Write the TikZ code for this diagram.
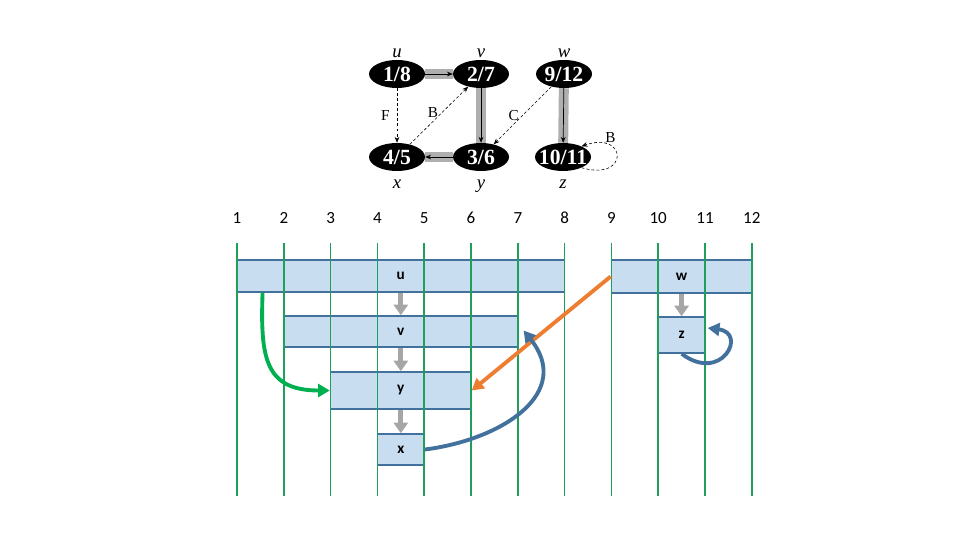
\documentclass[tikz,border=0pt]{standalone}
\usepackage{fontspec}
\setmainfont{Liberation Serif}
\newfontfamily\calibri{Carlito}
\usepackage{tikz}
\usetikzlibrary{arrows.meta,calc,backgrounds,shapes.geometric}

\definecolor{slotfill}{RGB}{200,221,240}
\definecolor{slotline}{RGB}{65,113,156}
\definecolor{gridgreen}{RGB}{30,160,90}
\definecolor{treegreen}{RGB}{0,176,80}
\definecolor{crossorange}{RGB}{237,125,49}
\definecolor{backblue}{RGB}{65,113,156}
\definecolor{nextgray}{RGB}{166,166,166}
\definecolor{bandgray}{RGB}{175,175,175}

\begin{document}
\begin{tikzpicture}[x=0.03cm, y=-0.03cm,
    vertex/.style={ellipse, fill=black, text=white, minimum width=56*0.03cm, minimum height=28*0.03cm,
        inner xsep=-4pt, inner ysep=0pt, font=\fontsize{18.5}{20}\selectfont\bfseries},
    vname/.style={font=\fontsize{16}{18}\selectfont\itshape, inner sep=1.5pt},
    band/.style={draw=bandgray, line width=8.5pt},
    tree/.style={-{Stealth[length=5pt,width=4pt]}, line width=0.6pt},
    nontree/.style={-{Stealth[length=5pt,width=4pt]}, line width=0.5pt, dash pattern=on 2.5pt off 1.8pt},
    elabel/.style={font=\fontsize{13}{15}\selectfont},
    tick/.style={font=\calibri\fontsize{14.5}{16}\selectfont},
    gridline/.style={draw=gridgreen, line width=1.3pt},
    slot/.style={rectangle, draw=slotline, line width=1.3pt, fill=slotfill, inner sep=0pt,
        font=\calibri\bfseries\fontsize{13}{15}\selectfont},
    nextarrow/.style={draw=nextgray, line width=4.2pt, -{Triangle[length=9pt,width=12pt]}},
    bigarrow/.style={line width=3.3pt, -{Triangle[length=10pt,width=11pt]}}]

    \useasboundingbox (0,0) rectangle (960,540);

    % the dfs graph
    \node[vertex, label={[vname]above:u}] (u) at (397,74) {1/8};
    \node[vertex, label={[vname]above:v}] (v) at (481,74) {2/7};
    \node[vertex, label={[vname]above:w}] (w) at (564,74) {9/12};
    \node[vertex, label={[vname, label distance=6pt]below:x}] (x) at (397,157) {4/5};
    \node[vertex, label={[vname, label distance=6pt]below:y}] (y) at (481,157) {3/6};
    \node[vertex, label={[vname, label distance=6pt]below:z}] (z) at (563,157) {10/11};

    \begin{scope}[on background layer]
        \draw[band] (u) -- (v);
        \draw[band] (v) -- (y);
        \draw[band] (y) -- (x);
        \draw[band] (w) -- (z);
    \end{scope}

    \draw[tree] (u) -- (v);
    \draw[tree] (v) -- (y);
    \draw[tree] (y) -- (x);
    \draw[tree] (w) -- (z);

    \draw[nontree] (u) -- node[elabel, left, inner sep=6pt] {F} (x);
    \draw[nontree] (x) -- node[elabel, pos=0.55, left, inner sep=3pt] {B} (v);
    \draw[nontree] (w) -- node[elabel, left, inner sep=3pt] {C} (y);
    \draw[nontree] (z.-30) .. controls +(48,14) and +(46,-16) .. node[elabel, pos=0.8, above right, inner sep=1pt] {B} (z.30);

    % intervals
    \node[slot, minimum width=7*46.8*0.03cm, minimum height=32*0.03cm] (su) at (400.8,276) {u};
    \node[slot, minimum width=5*46.8*0.03cm, minimum height=31*0.03cm] (sv) at (400.8,331.5) {v};
    \node[slot, minimum width=3*46.8*0.03cm, minimum height=37*0.03cm] (sy) at (400.8,390.5) {y};
    \node[slot, minimum width=1*46.8*0.03cm, minimum height=31*0.03cm] (sx) at (400.8,449.5) {x};
    \node[slot, minimum width=3*46.8*0.03cm, minimum height=33*0.03cm] (sw) at (681.6,276.5) {w};
    \node[slot, minimum width=1*46.8*0.03cm, minimum height=36*0.03cm] (sz) at (681.6,335) {z};

    \foreach \i in {1,...,12} {
        \node[tick] (t\i) at ({237+46.8*(\i-1)},218) {\i};
        \draw[gridline] ({237+46.8*(\i-1)},243) -- ({237+46.8*(\i-1)},496);
    }

    \draw[nextarrow] (su.south) -- (sv.north);
    \draw[nextarrow] (sv.south) -- (sy.north);
    \draw[nextarrow] (sy.south) -- (sx.north);
    \draw[nextarrow] (sw.south) -- (sz.north);

    \draw[bigarrow, treegreen] ($(su.south west)!0.08!(su.south east)$) to[out=-92, in=180, looseness=1.4] (sy.west);
    \draw[bigarrow, crossorange] (sw.west) -- (sy.east);
    \draw[bigarrow, backblue] (sx.east) .. controls +(78,-10) and +(50,62) .. ($(sv.east)+(5,-1)$);
    \draw[bigarrow, backblue] (sz.south) .. controls +(40,30) and +(40,5) .. ($(sz.east)+(2,-7)$);
\end{tikzpicture}
\end{document}
